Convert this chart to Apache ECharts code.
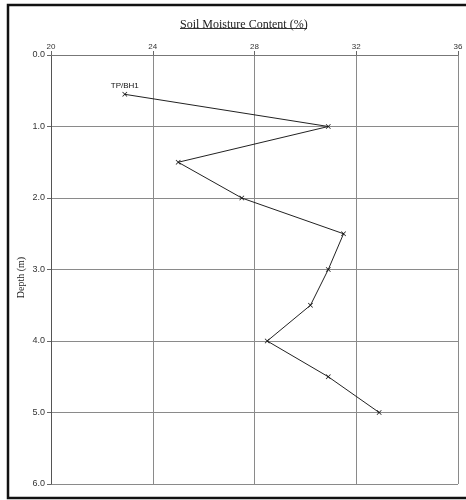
<!DOCTYPE html>
<html>
<head>
<meta charset="utf-8">
<script src="https://cdn.jsdelivr.net/npm/echarts@6/dist/echarts.min.js"></script>
<style>
  html, body { margin: 0; padding: 0; background: #fff; }
  #chart { width: 466px; height: 500px; }
</style>
</head>
<body>
<div id="chart"></div>
<script>
const depths = [0.55, 1.0, 1.5, 2.0, 2.5, 3.0, 3.5, 4.0, 4.5, 5.0]
const moisture = [22.9, 30.9, 25.0, 27.5, 31.5, 30.9, 30.2, 28.5, 30.9, 32.9]
const holeLabel = 'TP/BH1'

const moistureTicks = [20, 24, 28, 32, 36]
const depthTicks = [0, 1, 2, 3, 4, 5, 6]

const points = depths.map((d, i) => {
  const p = { value: [moisture[i], d] }
  if (i === 0) {
    p.label = { show: true, formatter: holeLabel, position: 'top', distance: 2 }
  }
  return p
})

// thin cross marker
const crossPath = 'path://M0,1L1,0L5,4L9,0L10,1L6,5L10,9L9,10L5,6L1,10L0,9L4,5Z'

const chart = echarts.init(document.getElementById('chart'))

chart.setOption({
  backgroundColor: '#fff',
  animation: false,
  title: {
    text: 'Soil Moisture Content (%)',
    left: 175,
    top: 14,
    textStyle: {
      fontFamily: 'Liberation Serif',
      fontSize: 12,
      fontWeight: 'normal',
      color: '#222'
    }
  },
  graphic: [
    {
      type: 'rect',
      shape: { x: 8, y: 5, width: 470, height: 493 },
      style: { fill: 'none', stroke: '#111', lineWidth: 2.5 },
      silent: true
    },
    {
      type: 'line',
      shape: { x1: 180, y1: 28.5, x2: 307, y2: 28.5 },
      style: { stroke: '#333', lineWidth: 1 },
      silent: true
    }
  ],
  grid: {
    left: 51,
    right: 8,
    top: 55,
    bottom: 16
  },
  xAxis: {
    type: 'value',
    position: 'top',
    min: moistureTicks[0],
    max: moistureTicks[moistureTicks.length - 1],
    interval: 4,
    axisLine: { show: true, lineStyle: { color: '#777', width: 1 } },
    axisTick: { show: true, length: 4, lineStyle: { color: '#666' } },
    axisLabel: {
      fontFamily: 'Liberation Sans',
      fontSize: 8,
      color: '#333',
      margin: 4
    },
    splitLine: { show: true, lineStyle: { color: '#8a8a8a', width: 1 } }
  },
  yAxis: {
    type: 'value',
    inverse: true,
    min: depthTicks[0],
    max: depthTicks[depthTicks.length - 1],
    interval: 1,
    name: 'Depth (m)',
    nameLocation: 'middle',
    nameGap: 25,
    nameMoveOverlap: false,
    nameTextStyle: {
      fontFamily: 'Liberation Serif',
      fontSize: 10,
      color: '#222',
      padding: [0, 16, 0, 0]
    },
    axisLine: { show: true, lineStyle: { color: '#555', width: 1 } },
    axisTick: { show: true, length: 4, lineStyle: { color: '#666' } },
    axisLabel: {
      fontFamily: 'Liberation Sans',
      fontSize: 9,
      color: '#333',
      margin: 6,
      formatter: v => v.toFixed(1)
    },
    splitLine: { show: true, lineStyle: { color: '#8a8a8a', width: 1 } }
  },
  series: [
    {
      type: 'line',
      data: points,
      symbol: crossPath,
      symbolSize: 5,
      showAllSymbol: true,
      lineStyle: { color: '#222', width: 1 },
      itemStyle: { color: '#111' },
      label: {
        fontFamily: 'Liberation Sans',
        fontSize: 8,
        color: '#111'
      }
    }
  ]
})
</script>
</body>
</html>
